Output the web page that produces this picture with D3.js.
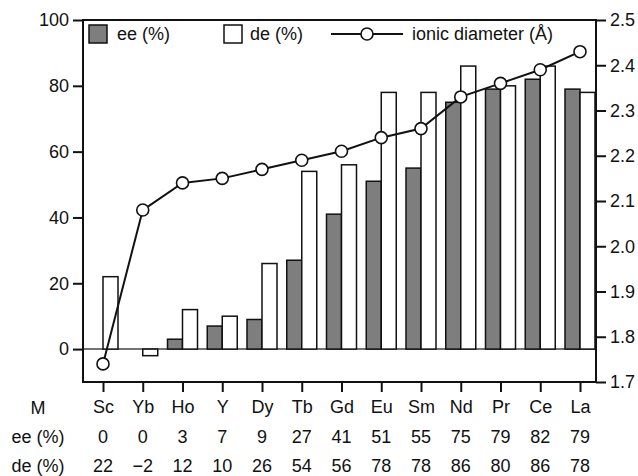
<!DOCTYPE html>
<meta charset="utf-8">
<body style="margin:0;background:#fff">
<script src="https://d3js.org/d3.v7.min.js"></script>
<script>
// values
var metals = ["Sc","Yb","Ho","Y","Dy","Tb","Gd","Eu","Sm","Nd","Pr","Ce","La"];
var ee = [0, 0, 3, 7, 9, 27, 41, 51, 55, 75, 79, 82, 79];
var de = [22, -2, 12, 10, 26, 54, 56, 78, 78, 86, 80, 86, 78];
var diameter = [1.74, 2.08, 2.14, 2.15, 2.17, 2.19, 2.21, 2.24, 2.26, 2.33, 2.36, 2.39, 2.43];
var leftTicks = [0, 20, 40, 60, 80, 100];
var rightTicks = [1.7, 1.8, 1.9, 2.0, 2.1, 2.2, 2.3, 2.4, 2.5];

var W = 638, H = 476;
var frame = {left: 83, right: 596, top: 20, bottom: 382};
var font = "'Liberation Sans', Arial, sans-serif";
var fsize = "18px";

var svg = d3.select("body").append("svg")
    .attr("width", W)
    .attr("height", H)
    .style("font-family", font)
    .style("font-size", fsize);

var x = d3.scalePoint()
    .domain(metals)
    .range([frame.left + 20, frame.right - 16]);

var y = d3.scaleLinear()
    .domain([-10, 100])
    .range([frame.bottom, frame.top]);

var y2 = d3.scaleLinear()
    .domain([1.7, 2.5])
    .range([frame.bottom, frame.top]);

var barW = 15;

// zero line
svg.append("line")
    .attr("x1", frame.left).attr("x2", frame.right)
    .attr("y1", y(0)).attr("y2", y(0))
    .attr("stroke", "#444").attr("stroke-width", 1.5);

// ee bars (gray)
svg.selectAll(".ee")
    .data(metals)
    .enter().append("rect")
    .attr("class", "ee")
    .attr("x", function(d) { return x(d) - barW; })
    .attr("width", barW)
    .attr("y", function(d, i) { return y(Math.max(0, ee[i])); })
    .attr("height", function(d, i) { return Math.abs(y(ee[i]) - y(0)); })
    .attr("fill", "#7e7e7e")
    .attr("stroke", "#111")
    .attr("stroke-width", 1.5)
    .style("display", function(d, i) { return ee[i] === 0 ? "none" : null; });

// de bars (white)
svg.selectAll(".de")
    .data(metals)
    .enter().append("rect")
    .attr("class", "de")
    .attr("x", function(d) { return x(d); })
    .attr("width", barW)
    .attr("y", function(d, i) { return y(Math.max(0, de[i])); })
    .attr("height", function(d, i) { return Math.abs(y(de[i]) - y(0)); })
    .attr("fill", "#fff")
    .attr("stroke", "#111")
    .attr("stroke-width", 1.5);

// frame
svg.append("rect")
    .attr("x", frame.left).attr("y", frame.top)
    .attr("width", frame.right - frame.left)
    .attr("height", frame.bottom - frame.top)
    .attr("fill", "none")
    .attr("stroke", "#111")
    .attr("stroke-width", 2);

// ionic diameter line
var line = d3.line()
    .x(function(d, i) { return x(metals[i]); })
    .y(function(d) { return y2(d); });

svg.append("path")
    .datum(diameter)
    .attr("d", line)
    .attr("fill", "none")
    .attr("stroke", "#111")
    .attr("stroke-width", 2);

svg.selectAll(".dot")
    .data(diameter)
    .enter().append("circle")
    .attr("class", "dot")
    .attr("cx", function(d, i) { return x(metals[i]); })
    .attr("cy", function(d) { return y2(d); })
    .attr("r", 6)
    .attr("fill", "#fff")
    .attr("stroke", "#111")
    .attr("stroke-width", 1.6);

// axes
var leftAxis = svg.append("g")
    .attr("transform", "translate(" + frame.left + ",0)")
    .call(d3.axisLeft(y).tickValues(leftTicks).tickSize(10).tickPadding(4));

var rightAxis = svg.append("g")
    .attr("transform", "translate(" + frame.right + ",0)")
    .call(d3.axisRight(y2).tickValues(rightTicks).tickSize(10).tickPadding(4)
        .tickFormat(d3.format(".1f")));

var bottomAxis = svg.append("g")
    .attr("transform", "translate(0," + frame.bottom + ")")
    .call(d3.axisBottom(x).tickSize(10).tickPadding(8));

[leftAxis, rightAxis, bottomAxis].forEach(function(g) {
    g.select(".domain").remove();
    g.selectAll("line").attr("stroke", "#111").attr("stroke-width", 2);
    g.selectAll("text")
        .attr("fill", "#111")
        .style("font-family", font)
        .style("font-size", fsize);
});
bottomAxis.selectAll("text").attr("dy", "0.71em");

// table rows under the axis
var rowLabels = ["M", "ee (%)", "de (%)"];
var rowY = [414, 443, 472];
svg.selectAll(".rowlab")
    .data(rowLabels)
    .enter().append("text")
    .attr("class", "rowlab")
    .attr("x", 38)
    .attr("y", function(d, i) { return rowY[i]; })
    .attr("text-anchor", "middle")
    .attr("fill", "#111")
    .text(function(d) { return d; });

function fmt(v) { return v < 0 ? "\u2212" + Math.abs(v) : String(v); }

[ee, de].forEach(function(arr, r) {
    svg.selectAll(".row" + r)
        .data(arr)
        .enter().append("text")
        .attr("x", function(d, i) { return x(metals[i]); })
        .attr("y", rowY[r + 1])
        .attr("text-anchor", "middle")
        .attr("fill", "#111")
        .text(fmt);
});

// legend
var lg = svg.append("g");
lg.append("rect")
    .attr("x", 89).attr("y", 25).attr("width", 18).attr("height", 18)
    .attr("fill", "#7e7e7e").attr("stroke", "#111").attr("stroke-width", 1.5);
lg.append("text").attr("x", 117).attr("y", 40).attr("fill", "#111").text("ee (%)");
lg.append("rect")
    .attr("x", 224).attr("y", 25).attr("width", 18).attr("height", 18)
    .attr("fill", "#fff").attr("stroke", "#111").attr("stroke-width", 1.5);
lg.append("text").attr("x", 250).attr("y", 40).attr("fill", "#111").text("de (%)");
lg.append("line")
    .attr("x1", 331).attr("x2", 403).attr("y1", 34).attr("y2", 34)
    .attr("stroke", "#111").attr("stroke-width", 2);
lg.append("circle")
    .attr("cx", 367).attr("cy", 34).attr("r", 6)
    .attr("fill", "#fff").attr("stroke", "#111").attr("stroke-width", 1.6);
lg.append("text").attr("x", 412).attr("y", 40).attr("fill", "#111").text("ionic diameter (\u00C5)");
</script>
</body>
